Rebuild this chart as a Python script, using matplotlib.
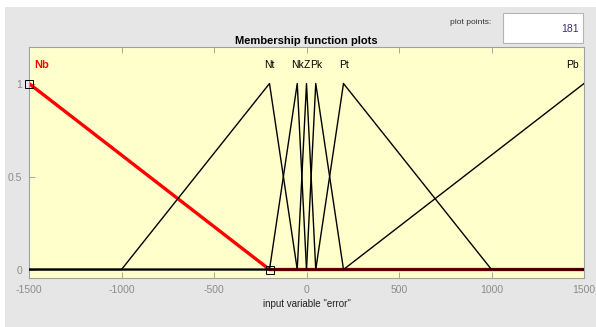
import numpy as np
import matplotlib
matplotlib.use('Agg')
import matplotlib.pyplot as plt
from matplotlib.patches import Rectangle

plt.rcParams['font.family'] = ['Liberation Sans', 'DejaVu Sans']
plt.rcParams['axes.unicode_minus'] = False

# membership functions of input "error" (trimf parameters)
mf_names = ['Nb', 'Nt', 'Nk', 'Z', 'Pk', 'Pt', 'Pb']
mf_a = [-1500, -1000, -200, -50, 0, 50, 200]
mf_b = [-1500, -200, -50, 0, 50, 200, 1500]
mf_c = [-200, -50, 0, 50, 200, 1000, 1500]
selected = 'Nb'
x_range = [-1500, 1500]
n_points = 181


def trimf(x, a, b, c):
  y = np.zeros_like(x)
  if b > a:
    m = (x >= a) & (x <= b)
    y[m] = (x[m] - a) / float(b - a)
  if c > b:
    m = (x >= b) & (x <= c)
    y[m] = (c - x[m]) / float(c - b)
  y[x == b] = 1.0
  return y


W, H = 596, 327
fig = plt.figure(figsize=(W / 100.0, H / 100.0), dpi=100)
fig.patch.set_facecolor('white')
# grey panel behind everything
fig.patches.append(Rectangle((5.0 / W, 0), 1, 1 - 7.0 / H, transform=fig.transFigure,
                             facecolor='#e6e6e6', edgecolor='none', zorder=-10))
# "plot points" box
fig.patches.append(Rectangle((503.0 / W, 1 - 43.0 / H), 80.0 / W, 30.0 / H,
                             transform=fig.transFigure, facecolor='white',
                             edgecolor='#b4b4b4', linewidth=0.8, zorder=-5))
fig.text(491.0 / W, 1 - 22.0 / H, 'plot points:', fontsize=6, ha='right', va='center', color='#333333')
fig.text(579.0 / W, 1 - 29.0 / H, str(n_points), fontsize=7.5, ha='right', va='center', color='#3b2a7a')

ax = fig.add_axes([29.0 / W, 1 - 277.7 / H, 555.0 / W, 231.0 / H])
ax.set_facecolor('#ffffcc')

x = np.linspace(x_range[0], x_range[1], n_points)
for name, a, b, c in zip(mf_names, mf_a, mf_b, mf_c):
  if name == selected:
    continue
  ax.plot(x, trimf(x, a, b, c), color='black', linewidth=1.0, zorder=3)

i = mf_names.index(selected)
ax.plot(x, trimf(x, mf_a[i], mf_b[i], mf_c[i]), color='red', linewidth=2.4, zorder=2)
ax.plot([mf_b[i], mf_c[i]], [1, 0], linestyle='none', marker='s', markersize=6,
        markerfacecolor='none', markeredgecolor='black', markeredgewidth=0.7, zorder=6,
        clip_on=False)

# labels above the peaks, kept inside the axes
for name, b in zip(mf_names, mf_b):
  lx = min(max(b, -1430), 1440)
  if name == selected:
    ax.text(lx, 1.1, name, color='red', fontweight='bold', fontsize=8, ha='center', va='center')
  else:
    ax.text(lx, 1.1, name, color='black', fontsize=7.5, ha='center', va='center')

ax.set_xlim(x_range)
ax.set_ylim(-0.044, 1.198)
ax.set_xticks(np.arange(-1500, 1501, 500))
ax.set_yticks([0, 0.5, 1])
ax.set_yticklabels(['0', '0.5', '1'])
ax.tick_params(direction='in', length=4, width=0.6, colors='#999999', labelsize=7.5, top=True,
               labelcolor='#8c8c8c', pad=5)
for s in ax.spines.values():
  s.set_color('#a0a0a0')
  s.set_linewidth(0.8)

ax.set_title('Membership function plots', fontsize=8, fontweight='bold', pad=2)
ax.set_xlabel('input variable "error"', fontsize=7, labelpad=3, color='#222222')

plt.savefig('out.png', dpi=100)
